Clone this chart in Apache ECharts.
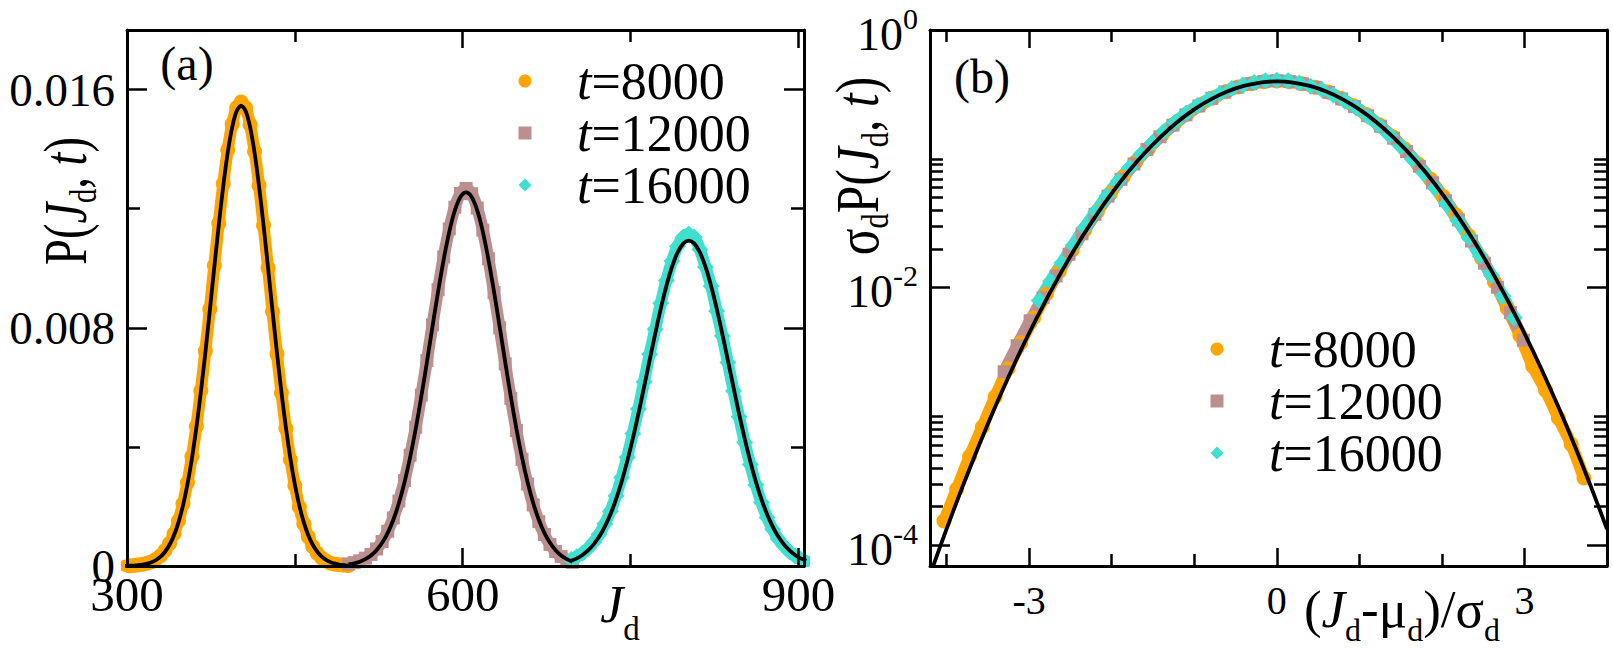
<!DOCTYPE html>
<html>
<head>
<meta charset="utf-8">
<script src="https://cdn.jsdelivr.net/npm/echarts@6/dist/echarts.min.js"></script>
<style>
html,body{margin:0;padding:0;background:#fff;}
#c{width:1613px;height:648px;}
</style>
</head>
<body>
<div id="c"></div>
<script>
// ---------------- data ----------------
const NAMES = ['t=8000', 't=12000', 't=16000'];
const COLORS = ['#FFA500', '#BC8F8F', '#40E0D0'];
const SYMBOLS = ['circle', 'rect', 'diamond'];
const SYMBOL_SIZES = [15, 13, 17];

// mean and standard deviation of J_d used for the rescaled panel (b)
const MU = [402, 603, 802];
const SIGMA = [25.8, 31.8, 36.5];

// panel (a): P(J_d, t) histograms
const J_8000 = [298,302,306,310,314,318,322,326,330,334,338,342,346,350,354,358,362,366,370,374,378,382,386,390,394,398,402,406,410,414,418,422,426,430,434,438,442,446,450,454,458,462,466,470,474,478,482,486,490,494,498];
const P_8000 = [6.0e-6,1.06e-5,1.90e-5,3.22e-5,5.53e-5,9.1e-5,1.45e-4,2.26e-4,3.46e-4,5.17e-4,7.56e-4,1.086e-3,1.52e-3,2.09e-3,2.80e-3,3.68e-3,4.69e-3,5.89e-3,7.22e-3,8.63e-3,1.009e-2,1.151e-2,1.284e-2,1.397e-2,1.484e-2,1.539e-2,1.558e-2,1.538e-2,1.482e-2,1.392e-2,1.278e-2,1.144e-2,1.001e-2,8.55e-3,7.12e-3,5.81e-3,4.62e-3,3.57e-3,2.70e-3,1.98e-3,1.42e-3,9.8e-4,6.56e-4,4.31e-4,2.68e-4,1.65e-4,9.5e-5,6.2e-5,3.78e-5,2.36e-5,1.29e-5];
const FIT_8000 = [4.58e-6,8.46e-6,1.52e-5,2.68e-5,4.61e-5,7.72e-5,1.26e-4,2.02e-4,3.15e-4,4.79e-4,7.13e-4,1.034e-3,1.466e-3,2.028e-3,2.741e-3,3.612e-3,4.648e-3,5.843e-3,7.166e-3,8.581e-3,1.0031e-2,1.1447e-2,1.2755e-2,1.3876e-2,1.4735e-2,1.5277e-2,1.5461e-2,1.5277e-2,1.4735e-2,1.3876e-2,1.2755e-2,1.1447e-2,1.0031e-2,8.581e-3,7.166e-3,5.843e-3,4.648e-3,3.612e-3,2.741e-3,2.028e-3,1.466e-3,1.034e-3,7.13e-4,4.79e-4,3.15e-4,2.02e-4,1.26e-4,7.72e-5,4.61e-5,2.68e-5,1.52e-5];

const J_12000 = [498,503,508,513,518,523,528,533,538,543,548,553,558,563,568,573,578,583,588,593,598,603,608,613,618,623,628,633,638,643,648,653,658,663,668,673,678,683,688,693,698];
const P_12000 = [7.0e-5,1.115e-4,1.74e-4,2.63e-4,3.88e-4,5.72e-4,8.24e-4,1.168e-3,1.615e-3,2.18e-3,2.87e-3,3.72e-3,4.66e-3,5.74e-3,6.90e-3,8.10e-3,9.28e-3,1.038e-2,1.132e-2,1.205e-2,1.251e-2,1.268e-2,1.250e-2,1.202e-2,1.128e-2,1.032e-2,9.18e-3,8.00e-3,6.79e-3,5.63e-3,4.55e-3,3.58e-3,2.75e-3,2.05e-3,1.49e-3,1.057e-3,7.24e-4,4.87e-4,3.17e-4,2.01e-4,1.23e-4];
const FIT_12000 = [5.38e-5,8.92e-5,1.450e-4,2.289e-4,3.525e-4,5.29e-4,7.78e-4,1.113e-3,1.553e-3,2.115e-3,2.810e-3,3.645e-3,4.610e-3,5.686e-3,6.843e-3,8.042e-3,9.210e-3,1.0292e-2,1.1222e-2,1.1941e-2,1.2390e-2,1.2544e-2,1.2390e-2,1.1941e-2,1.1222e-2,1.0292e-2,9.210e-3,8.042e-3,6.843e-3,5.686e-3,4.610e-3,3.645e-3,2.810e-3,2.115e-3,1.553e-3,1.113e-3,7.78e-4,5.29e-4,3.525e-4,2.289e-4,1.450e-4];

const J_16000 = [697,702,707,712,717,722,727,732,737,742,747,752,757,762,767,772,777,782,787,792,797,802,807,812,817,822,827,832,837,842,847,852,857,862,867,872,877,882,887,892,897,902,907];
const P_16000 = [2.18e-4,3.07e-4,4.25e-4,5.85e-4,7.99e-4,1.068e-3,1.416e-3,1.842e-3,2.35e-3,2.97e-3,3.65e-3,4.45e-3,5.27e-3,6.18e-3,7.11e-3,7.95e-3,8.82e-3,9.59e-3,1.024e-2,1.074e-2,1.104e-2,1.115e-2,1.104e-2,1.063e-2,1.004e-2,9.40e-3,8.56e-3,7.72e-3,6.83e-3,5.88e-3,5.01e-3,4.15e-3,3.41e-3,2.72e-3,2.13e-3,1.63e-3,1.23e-3,9.10e-4,6.69e-4,4.81e-4,3.40e-4,2.36e-4,1.60e-4];
const FIT_16000 = [1.743e-4,2.562e-4,3.694e-4,5.224e-4,7.268e-4,9.891e-4,1.3235e-3,1.7377e-3,2.238e-3,2.831e-3,3.513e-3,4.277e-3,5.112e-3,5.996e-3,6.901e-3,7.796e-3,8.644e-3,9.405e-3,1.0044e-2,1.0527e-2,1.0827e-2,1.0929e-2,1.0827e-2,1.0527e-2,1.0044e-2,9.405e-3,8.644e-3,7.796e-3,6.901e-3,5.996e-3,5.112e-3,4.277e-3,3.513e-3,2.831e-3,2.238e-3,1.7377e-3,1.3235e-3,9.891e-4,7.268e-4,5.224e-4,3.694e-4,2.562e-4,1.743e-4];

// panel (b): standard normal curve
const FIT_X_B = [-4.2,-4.0,-3.8,-3.6,-3.4,-3.2,-3.0,-2.8,-2.6,-2.4,-2.2,-2.0,-1.8,-1.6,-1.4,-1.2,-1.0,-0.8,-0.6,-0.4,-0.2,0,0.2,0.4,0.6,0.8,1.0,1.2,1.4,1.6,1.8,2.0,2.2,2.4,2.6,2.8,3.0,3.2,3.4,3.6,3.8,4.0];
const FIT_Y_B = [5.89e-5,1.338e-4,2.919e-4,6.119e-4,1.232e-3,2.384e-3,4.432e-3,7.915e-3,1.358e-2,2.239e-2,3.547e-2,5.399e-2,7.895e-2,0.1109,0.1497,0.1942,0.2420,0.2897,0.3332,0.3683,0.3910,0.3989,0.3910,0.3683,0.3332,0.2897,0.2420,0.1942,0.1497,0.1109,7.895e-2,5.399e-2,3.547e-2,2.239e-2,1.358e-2,7.915e-3,4.432e-3,2.384e-3,1.232e-3,6.119e-4,2.919e-4,1.338e-4];

// tick values
const A_X_MAJOR = [300, 600, 900];
const A_X_MINOR = [450, 750];
const A_Y_MAJOR = [0, 0.008, 0.016];
const A_Y_MINOR = [0.004, 0.012];
const B_X_MAJOR = [-3, 0, 3];
const B_X_MINOR = [-4, -2, -1, 1, 2, 4];
const B_Y_MAJOR = [1e-4, 1e-2, 1];
const B_Y_MINOR = [2e-4,3e-4,4e-4,5e-4,6e-4,7e-4,8e-4,9e-4,1e-3,2e-2,3e-2,4e-2,5e-2,6e-2,7e-2,8e-2,9e-2,1e-1];

// ---------------- chart ----------------
const FONT = 'Liberation Serif';
const J_LIST = [J_8000, J_12000, J_16000];
const P_LIST = [P_8000, P_12000, P_16000];
const FIT_LIST = [FIT_8000, FIT_12000, FIT_16000];
const B_LOG_MIN = -4.16;
const LEGEND_ICONS = ['circle', 'path://M0,0L10,0L10,10L0,10Z', 'path://M5,0L10,5L5,10L0,5Z'];

const AXIS_LINE = {show: true, onZero: false, lineStyle: {color: '#000', width: 3}};
function axis(gridIndex, position, min, max, ticks, tickLen, showLine, label) {
  return {
    type: 'value', gridIndex: gridIndex, position: position, min: min, max: max,
    axisLine: showLine ? AXIS_LINE : {show: false, onZero: false},
    axisTick: {show: true, inside: true, length: tickLen, customValues: ticks,
               lineStyle: {color: '#000', width: 2.5}},
    axisLabel: label ? Object.assign({show: true, customValues: ticks, color: '#000',
               fontFamily: FONT}, label) : {show: false},
    splitLine: {show: false}, minorTick: {show: false}, minorSplitLine: {show: false},
    z: 5
  };
}
const log10 = v => Math.log10(v);

const xAxes = [
  axis(0, 'bottom', 300, 905, A_X_MAJOR, 18, true, {margin: 4, fontSize: 49}),
  axis(0, 'bottom', 300, 905, A_X_MINOR, 12, false),
  axis(0, 'top', 300, 905, A_X_MAJOR, 18, true),
  axis(0, 'top', 300, 905, A_X_MINOR, 12, false),
  axis(1, 'bottom', -4.2, 4.0, B_X_MAJOR, 18, true, {margin: 14, fontSize: 40}),
  axis(1, 'bottom', -4.2, 4.0, B_X_MINOR, 12, false),
  axis(1, 'top', -4.2, 4.0, B_X_MAJOR, 18, true),
  axis(1, 'top', -4.2, 4.0, B_X_MINOR, 12, false)
];
const yAxes = [
  axis(0, 'left', 0, 0.018, A_Y_MAJOR, 20, true, {margin: 12, fontSize: 47,
       formatter: v => (v === 0 ? '0' : v.toFixed(3))}),
  axis(0, 'left', 0, 0.018, A_Y_MINOR, 13, false),
  axis(0, 'right', 0, 0.018, A_Y_MAJOR, 20, true),
  axis(0, 'right', 0, 0.018, A_Y_MINOR, 13, false),
  {type: 'log', gridIndex: 1, logBase: 10, min: Math.pow(10, B_LOG_MIN), max: 1, show: false,
   splitLine: {show: false}},
  axis(1, 'left', B_LOG_MIN, 0, B_Y_MAJOR.map(log10), 20, true, {margin: 12,
       formatter: v => '{b|10}{s|' + Math.round(v) + '}',
       rich: {b: {fontFamily: FONT, fontSize: 46, color: '#000', verticalAlign: 'top', padding: [8, 0, 0, 0]},
              s: {fontFamily: FONT, fontSize: 30, color: '#000', verticalAlign: 'top'}}}),
  axis(1, 'left', B_LOG_MIN, 0, B_Y_MINOR.map(log10), 13, false),
  axis(1, 'right', B_LOG_MIN, 0, B_Y_MAJOR.map(log10), 20, true),
  axis(1, 'right', B_LOG_MIN, 0, B_Y_MINOR.map(log10), 13, false)
];

const series = [];
for (let i = 0; i < 3; i++) {
  const common = {
    type: 'line', name: NAMES[i], symbol: SYMBOLS[i], symbolSize: SYMBOL_SIZES[i],
    showSymbol: true, showAllSymbol: true, smooth: 0.3, clip: true,
    lineStyle: {color: COLORS[i], width: 12, cap: 'round', join: 'round'},
    itemStyle: {color: COLORS[i], borderWidth: 0}, z: 2, emphasis: {disabled: true}
  };
  series.push(Object.assign({}, common, {
    xAxisIndex: 0, yAxisIndex: 0,
    data: J_LIST[i].map((j, k) => [j, P_LIST[i][k]])
  }));
  series.push(Object.assign({}, common, {
    xAxisIndex: 4, yAxisIndex: 4,
    data: J_LIST[i].map((j, k) => [(j - MU[i]) / SIGMA[i], P_LIST[i][k] * SIGMA[i]])
  }));
}
for (let i = 0; i < 3; i++) {
  series.push({
    type: 'line', name: 'fit ' + NAMES[i], xAxisIndex: 0, yAxisIndex: 0,
    data: J_LIST[i].map((j, k) => [j, FIT_LIST[i][k]]),
    symbol: 'none', smooth: 0.3, clip: true,
    lineStyle: {color: '#000', width: 3.8}, z: 3, emphasis: {disabled: true}
  });
}
series.push({
  type: 'line', name: 'normal', xAxisIndex: 4, yAxisIndex: 4,
  data: FIT_X_B.map((x, k) => [x, FIT_Y_B[k]]),
  symbol: 'none', smooth: 0.3, clip: true,
  lineStyle: {color: '#000', width: 3.8}, z: 3, emphasis: {disabled: true}
});

// the legend box starts at the left edge of the 13px icon drawn in the middle of itemWidth
function legend(iconCenterX, top) {
  return {
    data: NAMES.map((n, i) => ({name: n, icon: LEGEND_ICONS[i]})),
    orient: 'vertical', left: iconCenterX - 6.5, top: top, itemWidth: 94, itemHeight: 13, itemGap: 0,
    selectedMode: false, padding: 0, symbolKeepAspect: true,
    formatter: n => '{i|t}{n|' + n.slice(1) + '}',
    textStyle: {rich: {
      i: {fontFamily: FONT, fontSize: 52, fontStyle: 'italic', color: '#000', lineHeight: 50},
      n: {fontFamily: FONT, fontSize: 52, color: '#000', lineHeight: 50}
    }}
  };
}

function richSet(M, S, PAD) {
  return {
    m: {fontFamily: FONT, fontSize: M, fill: '#000', verticalAlign: 'top'},
    i: {fontFamily: FONT, fontSize: M, fontStyle: 'italic', fill: '#000', verticalAlign: 'top'},
    s: {fontFamily: FONT, fontSize: S, fill: '#000', verticalAlign: 'top', padding: [PAD, 0, 0, 0]}
  };
}
const RICH_XA = richSet(52, 33, 34);
const RICH_Y = richSet(62, 38, 30);
const RICH_XB = richSet(53, 32, 31);

function text(x, y, str, rich, rot, sx) {
  return {type: 'text', x: x, y: y, rotation: rot || 0, scaleX: sx || 1, z: 10,
    style: {text: str, rich: rich, fontFamily: FONT, fontSize: 48, fill: '#000',
            align: 'center', verticalAlign: 'middle'}};
}

const option = {
  animation: false,
  backgroundColor: '#fff',
  textStyle: {fontFamily: FONT, color: '#000'},
  grid: [
    {left: 127, top: 30, width: 677, height: 536},
    {left: 930, top: 30, width: 677, height: 536}
  ],
  xAxis: xAxes,
  yAxis: yAxes,
  legend: [legend(525, 55), legend(1217, 323)],
  series: series,
  graphic: [
    text(187, 63, '(a)'),
    text(982, 76, '(b)'),
    text(620, 612, '{i|J}{s|d}', RICH_XA),
    text(68, 201, '{m|P(}{i|J}{s|d}{m|, }{i|t}{m|)}', RICH_Y, Math.PI / 2, 0.75),
    text(860, 166, '{m|σ}{s|d}{m|P(}{i|J}{s|d}{m|, }{i|t}{m|)}', RICH_Y, Math.PI / 2, 0.8),
    text(1402, 614, '{m|(}{i|J}{s|d}{m|-μ}{s|d}{m|)/σ}{s|d}', RICH_XB)
  ]
};

const chart = echarts.init(document.getElementById('c'), null, {renderer: 'svg'});
chart.setOption(option);
</script>
</body>
</html>
